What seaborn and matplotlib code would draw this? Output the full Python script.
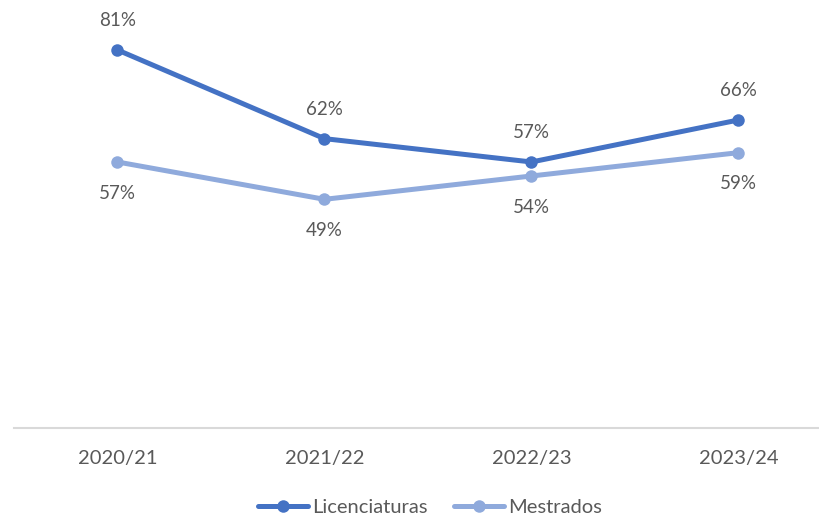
import matplotlib
matplotlib.use("Agg")
import matplotlib.pyplot as plt
import seaborn as sns
import pandas as pd
from matplotlib.lines import Line2D

anos = ["2020/21", "2021/22", "2022/23", "2023/24"]
licenciaturas = [81, 62, 57, 66]
mestrados = [57, 49, 54, 59]
series_names = ["Licenciaturas", "Mestrados"]
colors = ["#4472C4", "#8FAADC"]

df = pd.DataFrame({
    "ano": anos * 2,
    "pos": list(range(len(anos))) * 2,
    "valor": licenciaturas + mestrados,
    "serie": [series_names[0]] * len(anos) + [series_names[1]] * len(anos),
})

sns.set_theme(style="white")
plt.rcParams["font.family"] = ["Lato", "DejaVu Sans"]
text_color = "#595959"

fig = plt.figure(figsize=(8.2, 5.17), dpi=100)
ax = fig.add_axes([14 / 820, 1 - 428 / 517, 1 - 14 / 820, 428 / 517])

sns.lineplot(data=df, x="pos", y="valor", hue="serie", palette=colors,
             marker="o", markersize=9, markeredgewidth=0, linewidth=3.6,
             ax=ax, legend=False, sort=False)

ax.set_xlim(-0.5, -0.5 + 806 / 207)
ax.set_ylim(0, 428 / 4.667)

# value labels: above for Licenciaturas, below for Mestrados
for i, v in enumerate(licenciaturas):
    ax.annotate(f"{v}%", (i, v), xytext=(0, 21), textcoords="offset points",
                ha="center", va="center", fontsize=13.5, color=text_color)
for i, v in enumerate(mestrados):
    ax.annotate(f"{v}%", (i, v), xytext=(0, -22.5), textcoords="offset points",
                ha="center", va="center", fontsize=13.5, color=text_color)

for s in ["top", "right", "left"]:
    ax.spines[s].set_visible(False)
ax.spines["bottom"].set_color("#D9D9D9")
ax.spines["bottom"].set_linewidth(1.5)
ax.set_yticks([])
ax.set_xticks(range(len(anos)))
ax.set_xticklabels(anos, fontsize=14.5, color=text_color)
ax.tick_params(axis="x", length=0, pad=16)
ax.set_xlabel("")
ax.set_ylabel("")

handles = [Line2D([0], [0], color=c, lw=3.6, marker="o", markersize=9,
                  markeredgewidth=0) for c in colors]
fig.legend(handles, series_names, loc="center", bbox_to_anchor=(430 / 820, 1 - 507 / 517),
           ncol=2, frameon=False, fontsize=14.5, handlelength=2.5, handletextpad=0.2,
           columnspacing=1.3, labelcolor=text_color)

fig.savefig("out.png", dpi=100)
